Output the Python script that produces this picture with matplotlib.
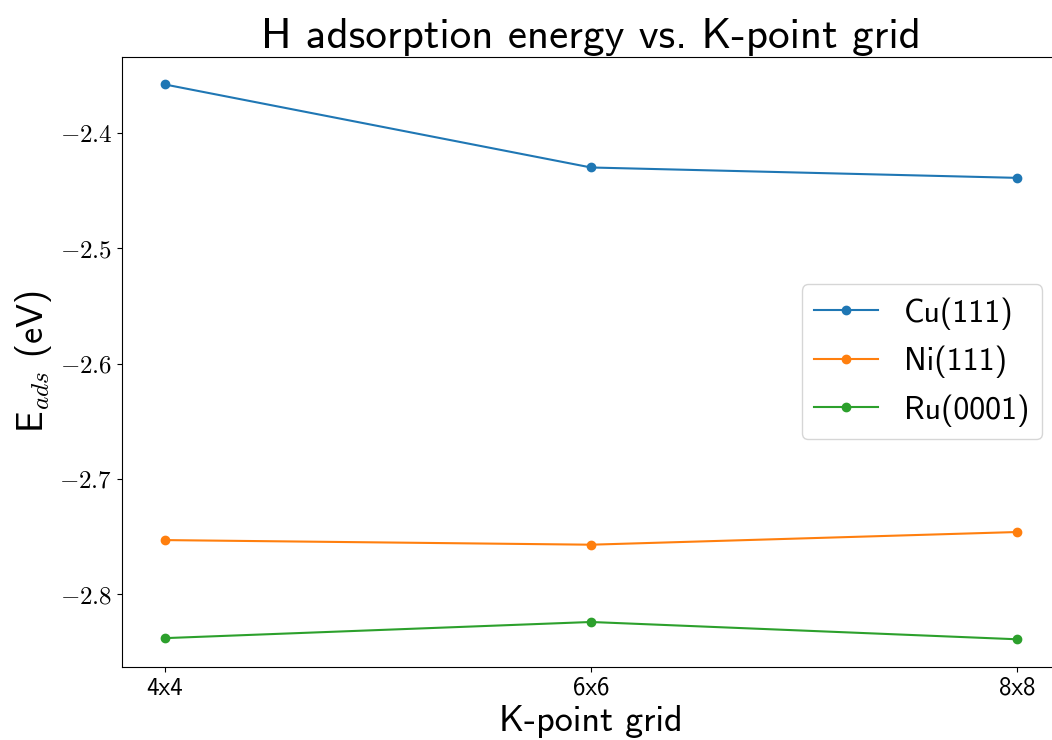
import matplotlib
matplotlib.use("Agg")
import matplotlib.pyplot as plt
from matplotlib.ticker import FuncFormatter

grids = ["4x4", "6x6", "8x8"]
cu111 = [-2.358, -2.430, -2.439]
ni111 = [-2.753, -2.757, -2.746]
ru0001 = [-2.838, -2.824, -2.839]
yticks = [-2.4, -2.5, -2.6, -2.7, -2.8]

plt.rcParams['font.family'] = ['cmss10']
plt.rcParams['mathtext.fontset'] = 'cm'

fig = plt.figure(figsize=(10.52, 7.40), dpi=100)
ax = fig.add_axes([0.116, 0.0986, 1.0076 - 0.116, 0.9234 - 0.0986])

ax.plot(grids, cu111, marker='o', markersize=6, linewidth=1.5, label='Cu(111)')
ax.plot(grids, ni111, marker='o', markersize=6, linewidth=1.5, label='Ni(111)')
ax.plot(grids, ru0001, marker='o', markersize=6, linewidth=1.5, label='Ru(0001)')

ax.set_title('H adsorption energy vs. K-point grid', fontsize=31)
ax.set_xlabel('K-point grid', fontsize=26)
ax.set_ylabel(r'E$_{ads}$ (eV)', fontsize=26)
ax.tick_params(axis='both', labelsize=18)
ax.set_yticks(yticks)
ax.yaxis.set_major_formatter(FuncFormatter(lambda v, p: r'$%.1f$' % v))
ax.legend(loc='center right', fontsize=23, bbox_to_anchor=(0.981, 0.5),
          bbox_transform=ax.transAxes, borderaxespad=0)

fig.savefig('out.png', dpi=100)
